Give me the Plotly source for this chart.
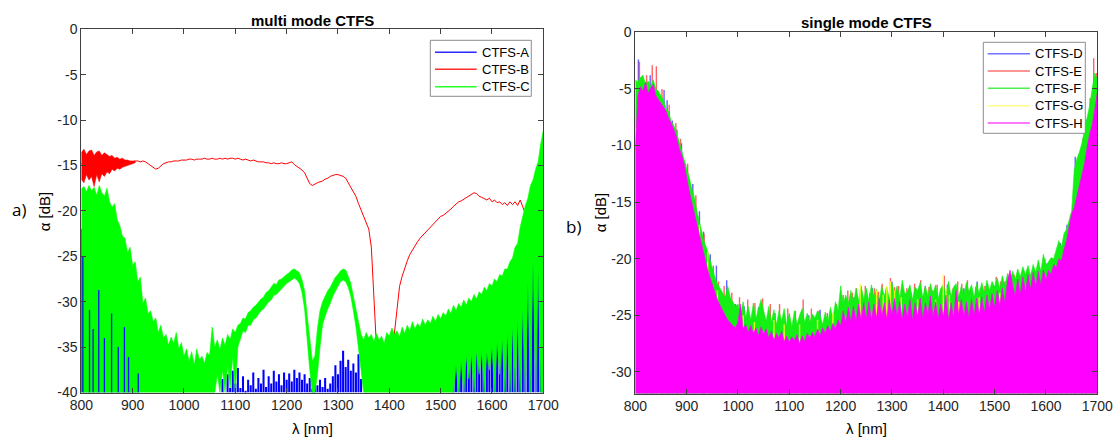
import numpy as np
import plotly.graph_objects as go

W, H = 1117, 438

# wavelength sampling grid (nm) shared by the sampled series
WL = list(range(800, 1705, 5))

# ---------------- multi mode CTFS (left) ----------------
# CTFS-A (blue) upper edge of noise, dB
A_top = [
    -22.0, -30.0, -25.0, -31.0, -28.0, -33.0, -27.0, -32.0, -30.0, -35.0,   # 800
    -31.0, -34.0, -33.0, -36.0, -34.0, -37.0, -35.0, -38.0, -36.0, -38.0,   # 850
    -37.0, -39.0, -38.0, -40.0, -40.0, -40.0, -40.0, -40.0, -40.0, -40.0,   # 900
    -40.0, -40.0, -40.0, -40.0, -40.0, -40.0, -40.0, -40.0, -40.0, -40.0,   # 950
    -40.0, -40.0, -40.0, -40.0, -40.0, -40.0, -40.0, -40.0, -40.0, -40.0,   # 1000
    -40.0, -40.0, -40.0, -40.0, -40.0, -38.5, -40.0, -38.0, -39.5, -37.6,   # 1050
    -39.0, -37.3, -39.5, -38.2, -39.8, -38.6, -39.2, -37.8, -39.6, -38.4,   # 1100
    -39.0, -37.5, -39.4, -38.2, -39.0, -37.6, -38.8, -38.0, -39.2, -37.8,   # 1150
    -38.6, -37.9, -38.8, -37.5, -38.4, -37.8, -38.6, -38.0, -39.0, -38.4,   # 1200
    -39.6, -38.8, -39.2, -38.6, -39.4, -38.4, -39.6, -39.0, -38.2, -37.0,   # 1250
    -38.0, -36.5, -35.4, -37.2, -36.4, -37.6, -36.8, -37.8, -35.8, -38.5,   # 1300
    -40.0, -40.0, -40.0, -40.0, -40.0, -40.0, -40.0, -40.0, -40.0, -40.0,   # 1350
    -40.0, -40.0, -40.0, -40.0, -40.0, -40.0, -40.0, -40.0, -40.0, -40.0,   # 1400
    -40.0, -40.0, -40.0, -40.0, -40.0, -40.0, -40.0, -40.0, -40.0, -40.0,   # 1450
    -40.0, -40.0, -40.0, -40.0, -40.0, -37.5, -36.5, -37.0, -36.0, -36.6,   # 1500
    -35.6, -36.2, -35.4, -35.8, -35.0, -35.6, -34.8, -35.4, -35.2, -35.8,   # 1550
    -34.6, -35.2, -34.2, -34.8, -33.8, -34.4, -33.0, -33.6, -32.6, -33.4,   # 1600
    -31.8, -33.0, -30.6, -31.8, -27.5, -29.8, -25.0, -23.2, -26.0, -24.5,   # 1650
    -28.0,                                                                   # 1700
]
# isolated CTFS-A spikes showing through the green noise
A_spike_x = [803, 816, 823, 834, 845, 859, 872, 884, 892, 911]
A_spike_top = [-25.0, -30.9, -33.0, -28.7, -34.0, -31.3, -35.0, -32.8, -36.1, -37.9]

# CTFS-B (red) trace
B_line = [
    -14.8, -15.0, -14.6, -15.2, -14.7, -15.0, -14.6, -15.1, -14.7, -14.9,   # 800
    -14.6, -14.8, -14.7, -14.9, -14.6, -14.8, -14.7, -14.6, -14.7, -14.6,   # 850
    -14.6, -14.5, -14.5, -14.6, -14.5, -14.6, -14.8, -15.0, -15.2, -15.4,   # 900
    -15.3, -15.0, -14.8, -14.7, -14.6, -14.6, -14.5, -14.5, -14.5, -14.4,   # 950
    -14.4, -14.4, -14.3, -14.3, -14.4, -14.3, -14.3, -14.3, -14.2, -14.3,   # 1000
    -14.3, -14.2, -14.3, -14.3, -14.2, -14.3, -14.2, -14.3, -14.2, -14.2,   # 1050
    -14.3, -14.2, -14.3, -14.4, -14.3, -14.4, -14.5, -14.4, -14.5, -14.6,   # 1100
    -14.6, -14.6, -14.7, -14.7, -14.8, -14.7, -14.8, -14.8, -14.7, -14.8,   # 1150
    -14.8, -14.7, -14.6, -14.9, -15.1, -15.2, -15.5, -15.8, -16.5, -17.0,   # 1200
    -17.2, -17.0, -16.9, -16.8, -16.7, -16.5, -16.4, -16.2, -16.1, -16.0,   # 1250
    -16.0, -16.1, -16.2, -16.4, -16.9, -17.4, -17.9, -18.4, -19.2, -19.9,   # 1300
    -20.5, -21.2, -22.0, -24.0, -29.0, -35.0, -37.6, -38.2, -37.9, -37.4,   # 1350
    -36.8, -36.0, -33.5, -30.3, -28.3, -27.2, -26.3, -25.5, -24.8, -24.3,   # 1400
    -23.8, -23.4, -23.0, -22.7, -22.4, -22.1, -21.8, -21.5, -21.1, -20.8,   # 1450
    -20.6, -20.5, -20.3, -20.1, -19.8, -19.5, -19.2, -19.0, -18.9, -18.7,   # 1500
    -18.6, -18.4, -18.2, -18.0, -18.1, -18.4, -18.5, -18.7, -18.8, -18.6,   # 1550
    -19.0, -18.8, -19.1, -19.0, -19.3, -19.1, -19.4, -19.0, -19.3, -19.0,   # 1600
    -19.4, -18.8, -19.6, -20.3, -18.9, -19.3, -17.0, -22.5, -16.5, -23.5,   # 1650
    -18.0,                                                                   # 1700
]
# noisy short-wavelength part of CTFS-B (upper / lower edges)
B_noise_x = list(range(800, 910, 5))
B_noise_hi = [-13.6, -13.2, -13.8, -13.4, -13.3, -13.9, -13.5, -13.4, -13.9, -13.6, -13.8,
              -14.0, -13.9, -14.2, -14.1, -14.3, -14.2, -14.4, -14.4, -14.5, -14.5, -14.5]
B_noise_lo = [-16.5, -16.9, -16.0, -16.6, -16.2, -17.3, -16.0, -16.8, -15.9, -16.2, -15.7,
              -15.9, -15.4, -15.6, -15.3, -15.4, -15.2, -15.1, -15.0, -14.9, -14.8, -14.7]

# CTFS-C (green) upper and lower edges of the noisy trace
C_top = [
    -17.6, -17.3, -17.9, -17.2, -17.8, -17.4, -18.3, -17.2, -18.0, -18.4,   # 800
    -17.5, -19.0, -19.6, -19.2, -21.0, -21.6, -22.8, -23.0, -24.6, -24.0,   # 850
    -26.0, -25.6, -27.8, -27.3, -30.2, -29.6, -31.3, -31.0, -32.2, -31.8,   # 900
    -33.4, -32.6, -34.0, -33.6, -34.8, -33.9, -34.6, -33.4, -35.2, -34.5,   # 950
    -36.0, -35.2, -36.6, -35.5, -37.0, -35.2, -36.4, -36.0, -36.8, -35.6,   # 1000
    -35.9, -32.8, -35.0, -34.2, -35.3, -34.0, -34.8, -33.6, -34.2, -33.0,   # 1050
    -33.4, -32.6, -32.4, -31.8, -31.9, -31.2, -31.0, -30.6, -30.4, -30.0,   # 1100
    -29.7, -29.5, -29.0, -28.8, -28.4, -28.0, -28.1, -27.6, -27.5, -27.2,   # 1150
    -27.0, -26.8, -26.5, -26.4, -26.6, -26.8, -27.6, -28.8, -31.5, -34.0,   # 1200
    -36.5, -36.0, -33.0, -31.0, -30.0, -29.4, -28.8, -28.4, -27.8, -27.3,   # 1250
    -27.0, -26.6, -26.4, -26.5, -27.2, -28.0, -29.4, -30.8, -32.4, -33.6,   # 1300
    -34.2, -33.4, -34.0, -33.6, -34.4, -33.5, -34.2, -33.8, -34.6, -33.4,   # 1350
    -33.8, -32.9, -33.6, -33.2, -33.9, -32.8, -33.5, -32.6, -33.2, -32.2,   # 1400
    -33.0, -32.4, -32.8, -31.9, -32.6, -32.0, -32.4, -31.6, -32.2, -31.4,   # 1450
    -31.9, -31.2, -31.6, -30.8, -31.3, -30.4, -31.0, -30.2, -30.6, -29.8,   # 1500
    -30.4, -29.6, -30.0, -29.2, -29.7, -28.9, -29.2, -28.4, -28.8, -28.0,   # 1550
    -28.3, -27.5, -27.8, -27.0, -27.2, -26.4, -26.4, -25.6, -25.2, -24.0,   # 1600
    -23.6, -21.8, -20.6, -19.4, -18.6, -17.2, -16.6, -15.4, -14.6, -12.6,   # 1650
    -11.2,                                                                   # 1700
]
C_bot = [
    -40.0, -40.0, -40.0, -40.0, -40.0, -40.0, -40.0, -40.0, -40.0, -40.0,   # 800
    -40.0, -40.0, -40.0, -40.0, -40.0, -40.0, -40.0, -40.0, -40.0, -40.0,   # 850
    -40.0, -40.0, -40.0, -40.0, -40.0, -40.0, -40.0, -40.0, -40.0, -40.0,   # 900
    -40.0, -40.0, -40.0, -40.0, -40.0, -40.0, -40.0, -40.0, -40.0, -40.0,   # 950
    -40.0, -40.0, -40.0, -40.0, -40.0, -40.0, -40.0, -40.0, -40.0, -40.0,   # 1000
    -40.0, -40.0, -40.0, -38.0, -40.0, -37.5, -40.0, -37.0, -39.5, -36.0,   # 1050
    -40.0, -35.0, -34.0, -33.2, -33.4, -32.6, -32.6, -32.0, -31.8, -31.4,   # 1100
    -31.0, -30.8, -30.4, -30.0, -29.8, -29.3, -29.2, -28.8, -28.6, -28.3,   # 1150
    -28.0, -27.8, -27.6, -27.4, -27.6, -28.0, -29.0, -30.8, -34.0, -37.5,   # 1200
    -40.0, -40.0, -38.0, -35.0, -32.5, -31.6, -30.8, -30.2, -29.4, -28.8,   # 1250
    -28.3, -27.8, -27.6, -27.8, -28.4, -29.4, -31.0, -32.8, -35.0, -37.5,   # 1300
    -40.0, -40.0, -40.0, -40.0, -40.0, -40.0, -40.0, -40.0, -40.0, -40.0,   # 1350
    -40.0, -40.0, -40.0, -40.0, -40.0, -40.0, -40.0, -40.0, -40.0, -40.0,   # 1400
    -40.0, -40.0, -40.0, -40.0, -40.0, -40.0, -40.0, -40.0, -40.0, -40.0,   # 1450
    -40.0, -40.0, -40.0, -40.0, -40.0, -40.0, -37.0, -40.0, -36.5, -40.0,   # 1500
    -36.0, -38.5, -35.8, -40.0, -35.5, -38.0, -35.5, -40.0, -35.6, -37.5,   # 1550
    -35.0, -40.0, -34.5, -38.0, -34.2, -40.0, -33.4, -40.0, -32.8, -40.0,   # 1600
    -32.0, -40.0, -30.8, -40.0, -28.0, -40.0, -25.5, -40.0, -26.5, -40.0,   # 1650
    -40.0,                                                                   # 1700
]

# ---------------- single mode CTFS (right) ----------------
D_x = [806, 818, 829, 856, 862, 872, 881, 890, 897, 912, 925, 933, 946, 958, 978, 995, 1012,
       1040, 1072, 1100, 1138, 1160, 1190, 1226, 1262, 1300, 1335, 1365, 1408, 1440, 1466,
       1500, 1535, 1570, 1600, 1628, 1641, 1657, 1670, 1679, 1688]
D_top = [-2.4, -4.6, -3.8, -5.1, -6.0, -7.8, -8.6, -9.8, -11.6, -13.4, -15.8, -17.6, -19.6,
         -20.6, -21.9, -24.0, -24.2, -24.3, -24.8, -25.0, -25.0, -24.5, -24.6, -23.4, -22.6,
         -22.0, -22.9, -22.4, -22.3, -22.6, -22.0, -22.4, -21.8, -21.4, -20.4, -18.6, -17.0,
         -11.0, -10.4, -7.7, -6.0]

E_x = [808, 822, 833, 841, 852, 866, 879, 888, 902, 918, 934, 952, 962, 973, 988, 1003,
       1019, 1033, 1048, 1063, 1081, 1097, 1112, 1127, 1143, 1158, 1174, 1192, 1205, 1214,
       1223, 1231, 1240, 1248, 1257, 1266, 1274, 1281, 1289, 1297, 1305, 1313, 1321, 1329,
       1337, 1344, 1356, 1364, 1372, 1380, 1388, 1395, 1402, 1410, 1419, 1428, 1436, 1447,
       1455, 1463, 1472, 1481, 1492, 1503, 1512, 1520, 1529, 1538, 1547, 1556, 1564, 1573,
       1582, 1590, 1598, 1606, 1614, 1622, 1631, 1640, 1649, 1658, 1665, 1672, 1679, 1686,
       1693, 1698]
E_top = [-2.6, -3.8, -2.9, -3.0, -5.0, -6.4, -8.0, -9.4, -11.6, -14.4, -17.8, -20.6, -22.0,
         -22.4, -23.0, -23.4, -23.6, -23.9, -23.5, -24.0, -24.0, -24.4, -24.6, -23.6, -24.4,
         -24.6, -24.8, -24.0, -23.2, -22.8, -23.0, -22.6, -22.9, -22.4, -23.0, -22.6, -22.9,
         -22.2, -22.6, -21.7, -22.5, -22.4, -22.9, -22.6, -23.0, -22.2, -21.9, -22.6, -22.5,
         -22.8, -22.3, -22.7, -21.5, -22.5, -22.6, -22.0, -22.2, -21.9, -22.8, -22.5, -22.6,
         -22.4, -22.8, -21.6, -22.0, -22.0, -21.3, -21.4, -21.7, -21.8, -21.0, -21.2, -21.5,
         -21.0, -20.0, -20.4, -20.2, -19.6, -18.8, -18.0, -16.2, -12.6, -10.8, -9.4, -8.0,
         -5.8, -2.3, -3.6]

F_top = [
    -4.2, -4.4, -4.0, -3.8, -4.6, -4.3, -4.8, -4.2, -5.0, -5.2,             # 800
    -5.6, -6.0, -6.8, -7.0, -7.9, -8.2, -8.8, -9.6, -10.4, -11.0,           # 850
    -12.0, -12.8, -13.8, -14.6, -15.8, -16.8, -17.6, -18.6, -19.2, -19.9,   # 900
    -20.8, -21.6, -22.2, -22.6, -23.0, -23.4, -22.4, -23.4, -23.8, -24.2,   # 950
    -24.0, -25.0, -23.8, -25.2, -24.2, -25.4, -23.9, -25.3, -24.4, -23.6,   # 1000
    -24.6, -25.5, -24.2, -25.6, -24.5, -25.8, -24.6, -25.5, -24.4, -25.9,   # 1050
    -24.8, -26.0, -24.6, -25.8, -25.0, -24.4, -25.6, -24.8, -25.6, -24.9,   # 1100
    -25.2, -24.6, -25.0, -25.8, -24.7, -25.6, -24.3, -25.2, -23.8, -24.6,   # 1150
    -22.4, -24.0, -23.2, -23.9, -22.8, -24.0, -22.6, -23.7, -22.4, -23.6,   # 1200
    -22.6, -23.7, -22.3, -23.4, -22.7, -23.8, -22.4, -23.3, -22.5, -23.6,   # 1250
    -22.2, -23.2, -22.4, -23.5, -21.9, -23.1, -22.9, -22.3, -23.6, -22.5,   # 1300
    -22.8, -22.1, -23.4, -22.4, -23.3, -22.2, -23.1, -22.3, -23.5, -22.6,   # 1350
    -22.3, -23.2, -22.0, -23.3, -22.5, -22.2, -23.4, -22.4, -23.2, -22.1,   # 1400
    -22.9, -22.3, -23.4, -22.2, -23.1, -22.1, -23.0, -21.9, -22.8, -22.0,   # 1450
    -22.5, -21.7, -22.6, -21.5, -22.4, -21.3, -22.0, -21.1, -21.8, -20.9,   # 1500
    -21.6, -20.7, -21.4, -20.6, -21.5, -20.5, -21.2, -20.1, -21.1, -19.6,   # 1550
    -20.6, -20.2, -19.9, -20.0, -19.2, -18.4, -19.0, -17.8, -17.4, -16.6,   # 1600
    -15.8, -12.2, -11.2, -10.6, -9.8, -8.6, -7.6, -6.5, -5.0, -3.6,         # 1650
    -4.2,                                                                    # 1700
]

G_x = [801, 845, 858, 890, 925, 941, 960, 1010, 1032, 1070, 1090, 1120, 1155, 1185, 1238,
       1270, 1283, 1290, 1297, 1305, 1318, 1350, 1385, 1400, 1405, 1412, 1430, 1470, 1510,
       1560, 1600]
G_top = [-8.4, -6.4, -7.2, -12.2, -17.0, -19.4, -22.8, -25.0, -25.6, -25.4, -25.8, -25.8,
         -25.4, -24.8, -22.2, -22.8, -23.2, -22.4, -22.0, -22.8, -23.4, -23.6, -23.6, -21.4,
         -22.6, -23.2, -23.8, -23.4, -23.0, -22.6, -21.6]

H_top = [
    -10.4, -5.6, -4.8, -5.2, -4.4, -5.4, -4.9, -4.6, -5.6, -5.9,            # 800
    -6.2, -6.6, -7.0, -7.6, -8.0, -8.7, -9.2, -10.2, -10.8, -11.6,          # 850
    -13.0, -14.0, -15.0, -16.0, -17.0, -17.9, -19.0, -19.9, -20.8, -21.6,   # 900
    -22.3, -22.9, -23.6, -24.1, -24.6, -25.0, -25.4, -25.7, -25.9, -26.1,   # 950
    -25.6, -24.0, -26.2, -25.8, -26.5, -25.9, -26.6, -26.1, -26.8, -26.0,   # 1000
    -26.7, -26.2, -27.0, -26.4, -27.2, -26.6, -27.0, -26.4, -27.3, -26.8,   # 1050
    -27.4, -26.9, -27.2, -26.7, -27.5, -26.8, -27.3, -26.6, -27.0, -26.5,   # 1100
    -26.9, -26.2, -26.8, -26.1, -26.6, -25.9, -26.4, -25.7, -26.2, -25.4,   # 1150
    -25.9, -24.6, -25.7, -24.3, -25.6, -24.2, -25.5, -24.0, -25.4, -23.9,   # 1200
    -25.3, -23.8, -25.4, -24.0, -25.2, -23.5, -25.1, -23.9, -25.3, -23.6,   # 1250
    -25.0, -23.5, -25.1, -23.8, -25.3, -24.0, -25.2, -23.6, -25.4, -23.9,   # 1300
    -25.1, -23.5, -25.3, -23.9, -24.9, -23.3, -25.2, -23.8, -25.3, -24.0,   # 1350
    -25.1, -23.2, -25.4, -23.9, -25.2, -22.8, -24.9, -23.6, -25.1, -23.8,   # 1400
    -25.2, -23.6, -25.0, -23.5, -24.9, -23.4, -24.8, -23.2, -24.5, -23.1,   # 1450
    -24.3, -22.8, -24.1, -22.6, -23.9, -22.0, -21.0, -22.3, -23.3, -21.8,   # 1500
    -23.1, -21.6, -22.9, -21.4, -22.7, -21.2, -22.5, -21.1, -22.3, -21.0,   # 1550
    -21.8, -21.0, -21.4, -20.5, -20.8, -20.0, -20.2, -19.2, -18.4, -17.2,   # 1600
    -16.0, -15.5, -14.5, -13.6, -12.6, -11.6, -10.2, -9.0, -8.2, -6.6,      # 1650
    -5.4,                                                                    # 1700
]

X_TICKS = [800, 900, 1000, 1100, 1200, 1300, 1400, 1500, 1600, 1700]
X_TICKTEXT = ['800', '900', '1000', '1100', '1200', '1300', '1400', '1500', '1600', '1700']
Y1_TICKS = [0, -5, -10, -15, -20, -25, -30, -35, -40]
Y1_TICKTEXT = ['0', '-5', '-10', '-15', '-20', '-25', '-30', '-35', '-40']
Y2_TICKS = [0, -5, -10, -15, -20, -25, -30]
Y2_TICKTEXT = ['0', '-5', '-10', '-15', '-20', '-25', '-30']

LEFT_NAMES = ['CTFS-A', 'CTFS-B', 'CTFS-C']
RIGHT_NAMES = ['CTFS-D', 'CTFS-E', 'CTFS-F', 'CTFS-G', 'CTFS-H']

for name, arr in [('A_top', A_top), ('B_line', B_line), ('C_top', C_top), ('C_bot', C_bot),
                  ('F_top', F_top), ('H_top', H_top)]:
    if len(arr) != len(WL):
        raise ValueError(f'{name}: {len(arr)} values, expected {len(WL)}')
for name, a, b in [('B_noise_hi', B_noise_x, B_noise_hi), ('B_noise_lo', B_noise_x, B_noise_lo),
                   ('A_spike', A_spike_x, A_spike_top), ('D', D_x, D_top), ('E', E_x, E_top),
                   ('G', G_x, G_top)]:
    if len(a) != len(b):
        raise ValueError(f'{name}: {len(a)} x vs {len(b)} y')

FLOOR_L = -40.0
FLOOR_R = -32.0


def bars(x, top, base, color, width, xa, ya):
    """dense noise as thin bars from the floor (drawn below all scatter layers)"""
    top = np.asarray(top, float)
    return go.Bar(x=x, y=top - base, base=base, width=width,
                  marker=dict(color=color, line=dict(width=0)),
                  showlegend=False, hoverinfo='skip', xaxis=xa, yaxis=ya)


def spikes(x, top, base, color, width, xa, ya, opacity=1.0):
    """individual vertical noise spikes from the floor, kept in scatter drawing order"""
    xs, ys = [], []
    for xi, ti in zip(x, top):
        xs += [xi, xi, None]
        ys += [base, ti, None]
    return go.Scatter(x=xs, y=ys, mode='lines', line=dict(color=color, width=width),
                      opacity=opacity, showlegend=False, hoverinfo='skip', xaxis=xa, yaxis=ya)


def area(x, top, bot, color, xa, ya):
    """region covered by a noisy trace: between its lower and upper excursions"""
    x = list(x)
    if np.ndim(bot) == 0:
        bot = [bot] * len(x)
    xs = x + x[::-1]
    ys = list(top) + list(bot)[::-1]
    return go.Scatter(x=xs, y=ys, mode='lines', fill='toself', fillcolor=color,
                      line=dict(color=color, width=0.6), showlegend=False,
                      hoverinfo='skip', xaxis=xa, yaxis=ya)


fig = go.Figure()
# left panel (drawing order A, B, C as in the original)
fig.add_trace(bars(WL, A_top, FLOOR_L, '#0000ff', 4.0, 'x', 'y'))
fig.add_trace(area(B_noise_x, B_noise_hi, B_noise_lo, '#ff0000', 'x', 'y'))
fig.add_trace(go.Scatter(x=WL, y=B_line, mode='lines', line=dict(color='#ff0000', width=1),
                         showlegend=False, hoverinfo='skip', xaxis='x', yaxis='y'))
fig.add_trace(area(WL, C_top, C_bot, '#00ff00', 'x', 'y'))
fig.add_trace(spikes(A_spike_x, A_spike_top, FLOOR_L, '#0000ff', 1.3, 'x', 'y', 0.9))
# right panel (D, E, F, G, H)
fig.add_trace(spikes(D_x, D_top, FLOOR_R, '#3c3cff', 1.4, 'x2', 'y2', 0.8))
fig.add_trace(spikes(E_x, E_top, FLOOR_R, '#ff3c3c', 1.4, 'x2', 'y2', 0.8))
fig.add_trace(area(WL, F_top, FLOOR_R, '#14f014', 'x2', 'y2'))
fig.add_trace(spikes(G_x, G_top, FLOOR_R, '#ffff1e', 1.4, 'x2', 'y2', 0.9))
fig.add_trace(area(WL, H_top, FLOOR_R, '#ff00ff', 'x2', 'y2'))

FONT = 'Liberation Sans, Arial, sans-serif'
axis_common = dict(showline=True, linecolor='#404040', linewidth=1, mirror='ticks',
                   ticks='inside', ticklen=5, tickwidth=1, tickcolor='#404040',
                   showgrid=False, zeroline=False, automargin=False, tickmode='array',
                   tickfont=dict(family=FONT, size=14, color='#262626'))

fig.update_layout(
    width=W, height=H, margin=dict(l=0, r=0, t=0, b=0, pad=0),
    paper_bgcolor='white', plot_bgcolor='white', barmode='overlay', showlegend=False,
    xaxis=dict(axis_common, domain=[81.3 / W, 543.3 / W], range=[800, 1700], anchor='y',
               tickvals=X_TICKS, ticktext=X_TICKTEXT),
    yaxis=dict(axis_common, domain=[1 - 392.5 / H, 1 - 29.3 / H], range=[-40, 0], anchor='x',
               tickvals=Y1_TICKS, ticktext=Y1_TICKTEXT),
    xaxis2=dict(axis_common, domain=[635.3 / W, 1097.3 / W], range=[800, 1700], anchor='y2',
                tickvals=X_TICKS, ticktext=X_TICKTEXT),
    yaxis2=dict(axis_common, domain=[1 - 393.5 / H, 1 - 32.3 / H], range=[-31.9, 0], anchor='x2',
                tickvals=Y2_TICKS, ticktext=Y2_TICKTEXT),
)


def px(x):
    return x / W


def py(y):
    return 1 - y / H


ann = []


def text(x, y, s, size=15, bold=False, angle=0, anchor='center', family=FONT):
    ann.append(dict(x=px(x), y=py(y), xref='paper', yref='paper', text=f'<b>{s}</b>' if bold else s,
                    showarrow=False, xanchor=anchor, yanchor='middle', textangle=angle,
                    font=dict(family=family, size=size, color='#000000')))


text(312.3, 20.5, 'multi mode CTFS', size=15, bold=True)
text(866.3, 22.0, 'single mode CTFS', size=15, bold=True)
text(312.3, 428, 'λ [nm]', size=15)
text(866.3, 428, 'λ [nm]', size=15)
text(44.3, 211, 'α [dB]', size=15, angle=-90)
text(600.5, 212.8, 'α [dB]', size=15, angle=-90)
text(18.7, 209, 'a)', size=17, family='Open Sans, Noto Sans, sans-serif')
text(573, 226.7, 'b)', size=17, family='Open Sans, Noto Sans, sans-serif')

shapes = []


def legend_box(x0, y0, x1, y1, line_x0, line_x1, text_x, rows, names, colors):
    shapes.append(dict(type='rect', xref='paper', yref='paper', x0=px(x0), x1=px(x1),
                       y0=py(y1), y1=py(y0), line=dict(color='#8c8c8c', width=1),
                       fillcolor='white', layer='above'))
    for r, n, c in zip(rows, names, colors):
        shapes.append(dict(type='line', xref='paper', yref='paper', x0=px(line_x0), x1=px(line_x1),
                           y0=py(r), y1=py(r), line=dict(color=c, width=1.5), layer='above'))
        ann.append(dict(x=px(text_x), y=py(r), xref='paper', yref='paper', text=n, showarrow=False,
                        xanchor='left', yanchor='middle',
                        font=dict(family=FONT, size=13, color='#000000')))


legend_box(430.3, 40.3, 531.3, 96.3, 435.0, 476.7, 480.0, [52.3, 69.3, 86.7],
           LEFT_NAMES, ['#2a2aff', '#ff2a2a', '#2aff2a'])
legend_box(983.3, 42.3, 1085.3, 133.3, 987.7, 1030.0, 1032.5, [53.7, 71.0, 88.3, 105.7, 123.0],
           RIGHT_NAMES, ['#7373ff', '#ff7373', '#4df04d', '#ffff8c', '#ff4dff'])

fig.update_layout(annotations=ann, shapes=shapes)
fig.write_html('out.html')
